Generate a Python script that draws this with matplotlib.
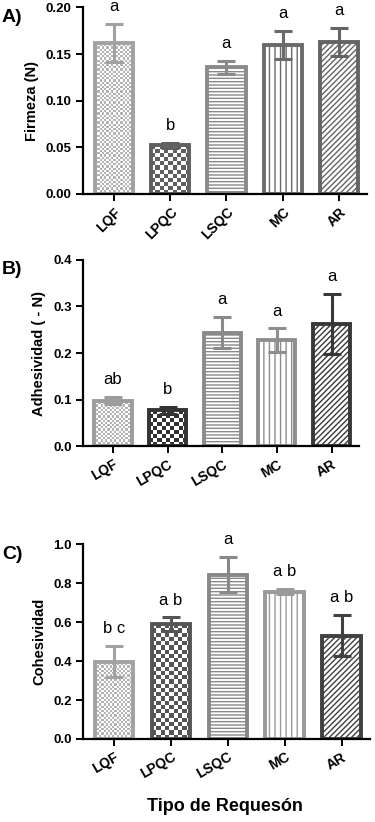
import matplotlib
matplotlib.use("Agg")
import matplotlib.pyplot as plt
from matplotlib.colors import ListedColormap
import numpy as np

plt.rcParams['font.family'] = ['Liberation Sans', 'DejaVu Sans']
plt.rcParams['hatch.linewidth'] = 1.0

# data
groups = ['LQF', 'LPQC', 'LSQC', 'MC', 'AR']

firmeza = [0.162, 0.052, 0.136, 0.160, 0.163]
firmeza_sd = [0.020, 0.003, 0.007, 0.015, 0.015]
firmeza_let = ['a', 'b', 'a', 'a', 'a']

adhes = [0.098, 0.077, 0.244, 0.228, 0.262]
adhes_sd = [0.008, 0.007, 0.033, 0.025, 0.065]
adhes_let = ['ab', 'b', 'a', 'a', 'a']

cohes = [0.397, 0.590, 0.844, 0.756, 0.530]
cohes_sd = [0.080, 0.034, 0.090, 0.013, 0.106]
cohes_let = ['b c', 'a b', 'a', 'a b', 'a b']

# None -> checkerboard fill drawn as an image, cell size in pixels
hatches = [None, None, '-----', '|||', '//////']
checker_px = [2.2, 4.2, None, None, None]

fig = plt.figure(figsize=(3.75, 8.22), dpi=100)

panels = [
    ([0.221, 0.764, 0.758, 0.227], firmeza, firmeza_sd, firmeza_let, 'Firmeza (N)',
     0.20, np.arange(0, 0.201, 0.05), '%.2f',
     ['#a2a2a2', '#606060', '#8a8a8a', '#6a6a6a', '#646464'], 45, 'A)'),
    ([0.221, 0.457, 0.736, 0.227], adhes, adhes_sd, adhes_let, 'Adhesividad ( - N)',
     0.4, np.arange(0, 0.41, 0.1), '%.1f',
     ['#9c9c9c', '#333333', '#8a8a8a', '#8e8e8e', '#383838'], 30, 'B)'),
    ([0.221, 0.101, 0.766, 0.237], cohes, cohes_sd, cohes_let, 'Cohesividad',
     1.0, np.arange(0, 1.01, 0.2), '%.1f',
     ['#a2a2a2', '#555555', '#888888', '#9a9a9a', '#404040'], 30, 'C)'),
]


def checker_fill(ax, patch, color, cell):
    # paint a checkerboard inside the bar, clipped to its outline
    x0, y0 = patch.get_x(), patch.get_y()
    w, h = patch.get_width(), patch.get_height()
    p0 = ax.transData.transform((x0, y0))
    p1 = ax.transData.transform((x0 + w, y0 + h))
    nx = max(1, int(round((p1[0] - p0[0]) / cell)))
    ny = max(1, int(round((p1[1] - p0[1]) / cell)))
    board = (np.add.outer(np.arange(ny), np.arange(nx)) % 2).astype(float)
    im = ax.imshow(board, extent=(x0, x0 + w, y0, y0 + h), origin='lower',
                   cmap=ListedColormap(['white', color]), aspect='auto',
                   interpolation='nearest', zorder=1.5)
    im.set_clip_path(patch)


x = np.arange(len(groups))
for rect, vals, sd, lets, ylab, ymax, yt, fmt, cols, rot, tag in panels:
    ax = fig.add_axes(rect)
    ax.set_xlim(-0.55, 4.5)
    ax.set_ylim(0, ymax)
    for i in range(len(groups)):
        bar = ax.bar(x[i], vals[i], width=0.68, color='white' if hatches[i] else 'none',
                     edgecolor=cols[i], linewidth=2.8, hatch=hatches[i], zorder=2)[0]
        if checker_px[i]:
            fill = '#b4b4b4' if i == 0 else cols[i]
            checker_fill(ax, bar, fill, checker_px[i])
        ax.errorbar(x[i], vals[i], yerr=sd[i], color=cols[i], elinewidth=2.2,
                    capsize=6.5, capthick=2.2, zorder=3)
        ax.annotate(lets[i], (x[i], vals[i] + sd[i]), xytext=(0, 7),
                    textcoords='offset points', ha='center', va='bottom',
                    fontsize=12, annotation_clip=False)
    ax.set_xlim(-0.55, 4.5)
    ax.set_ylim(0, ymax)
    ax.set_yticks(yt)
    ax.set_yticklabels([fmt % v for v in yt], fontsize=9.5, fontweight='bold')
    ax.set_xticks(x)
    ax.set_xticklabels(groups, fontsize=10, fontweight='bold', rotation=rot,
                       ha='right', rotation_mode='anchor')
    ax.set_ylabel(ylab, fontsize=10.5, fontweight='bold', labelpad=5)
    for s in ['top', 'right']:
        ax.spines[s].set_visible(False)
    for s in ['left', 'bottom']:
        ax.spines[s].set_linewidth(1.6)
    ax.tick_params(width=1.4, length=5, pad=3)
    fig.text(0.005, rect[1] + rect[3] - 0.012, tag, fontsize=14,
             fontweight='bold', va='center')

fig.text(0.6, 0.019, 'Tipo de Requesón', fontsize=13, fontweight='bold',
         ha='center', va='center')

fig.savefig('out.png', dpi=100)
